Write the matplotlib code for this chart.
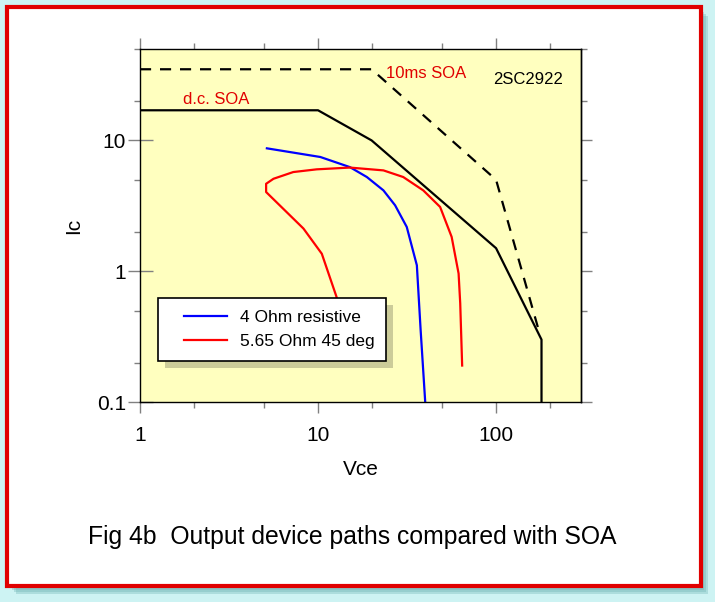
import numpy as np
import matplotlib
matplotlib.use('Agg')
import matplotlib.pyplot as plt
from matplotlib.patches import Rectangle
from matplotlib.legend_handler import HandlerLine2D
from matplotlib.ticker import LogLocator, NullFormatter, FixedFormatter, FixedLocator

plt.rcParams['font.family'] = ['Liberation Sans', 'DejaVu Sans']

# SOA boundaries of the 2SC2922
dc_vce = [1, 10, 20, 100, 180, 180]
dc_ic = [17, 17, 10, 1.5, 0.3, 0.1]
ms_vce = [1, 20, 100, 172]
ms_ic = [35, 35, 5, 0.37]

# device paths
res_vce = [5.16, 10.3, 15.1, 18.8, 23.3, 27.1, 31.5, 35.9, 37.7, 40.0]
res_ic = [8.7, 7.47, 6.25, 5.25, 4.15, 3.19, 2.18, 1.11, 0.355, 0.1]
react_vce = [14.0, 12.7, 10.5, 8.28, 5.11, 5.11, 5.62, 7.26, 9.83, 15.1, 23.3,
             30.1, 39.0, 48.5, 56.3, 61.6, 62.9, 64.5]
react_ic = [0.3, 0.637, 1.36, 2.12, 4.03, 4.66, 5.09, 5.73, 6.01, 6.2, 5.9,
            5.25, 4.15, 3.1, 1.83, 0.96, 0.57, 0.19]

tick_vals = [1, 10, 100]
ytick_vals = [0.1, 1, 10]

W, H = 715, 602
fig = plt.figure(figsize=(W / 100, H / 100), dpi=100)
fig.patch.set_facecolor('#cdf3f3')

def px(x0, y0, x1, y1):
    # pixel box (top-left origin) -> figure fraction rect
    return (x0 / W, 1 - y1 / H), (x1 - x0) / W, (y1 - y0) / H

# blurred shadow of the frame
for d, a in [(0, 0.35), (2, 0.35), (4, 0.35)]:
    xy, w, h = px(12 + d, 12 + d, 706 + d - 2, 592 + d - 2)
    fig.patches.append(Rectangle(xy, w, h, transform=fig.transFigure,
                                 facecolor='#6fb4b4', edgecolor='none', alpha=a, zorder=-3))
xy, w, h = px(7, 7, 701, 586)
fig.patches.append(Rectangle(xy, w, h, transform=fig.transFigure, facecolor='white',
                             edgecolor='#e00000', linewidth=3, zorder=-2))

ax = fig.add_axes([140 / W, 1 - 402 / H, 441 / W, 353 / H])
ax.set_facecolor('#ffffbf')
ax.set_xscale('log')
ax.set_yscale('log')
ax.set_xlim(1, 300)
ax.set_ylim(0.1, 50)

ax.plot(dc_vce, dc_ic, color='black', lw=1.6)
ax.plot(ms_vce, ms_ic, color='black', lw=1.6, ls=(0, (5, 4)))
l1, = ax.plot(res_vce, res_ic, color='#0000ff', lw=1.6, label='4 Ohm resistive')
l2, = ax.plot(react_vce, react_ic, color='#ff0000', lw=1.6, label='5.65 Ohm 45 deg')

ax.text(1.74, 20.6, 'd.c. SOA', color='#e00000', fontsize=12, va='center')
ax.text(24.1, 32.7, '10ms SOA', color='#e00000', fontsize=12, va='center')
ax.text(96.3, 29.3, '2SC2922', color='black', fontsize=12, va='center')

for s in ax.spines.values():
    s.set_linewidth(1.0)

ax.xaxis.set_major_locator(FixedLocator(tick_vals))
ax.xaxis.set_major_formatter(FixedFormatter([str(v) for v in tick_vals]))
ax.xaxis.set_minor_locator(LogLocator(base=10, subs=(2, 5)))
ax.xaxis.set_minor_formatter(NullFormatter())
ax.yaxis.set_major_locator(FixedLocator(ytick_vals))
ax.yaxis.set_major_formatter(FixedFormatter(['0.1', '1', '10']))
ax.yaxis.set_minor_locator(LogLocator(base=10, subs=(2, 5)))
ax.yaxis.set_minor_formatter(NullFormatter())

ax.tick_params(axis='x', which='major', direction='out', length=8, width=1,
               color='#808080', top=True, labelsize=15, pad=9)
ax.tick_params(axis='x', which='minor', direction='out', length=4.5, width=1,
               color='#808080', top=True)
ax.tick_params(axis='y', which='major', direction='inout', length=18, width=1,
               color='#808080', right=False, labelsize=15, pad=1)
ax.tick_params(axis='y', which='minor', direction='out', length=4.5, width=1,
               color='#808080', right=False)

sec = ax.secondary_yaxis('right')
sec.yaxis.set_major_locator(FixedLocator(ytick_vals))
sec.yaxis.set_minor_locator(LogLocator(base=10, subs=(2, 5)))
sec.yaxis.set_major_formatter(NullFormatter())
sec.yaxis.set_minor_formatter(NullFormatter())
sec.tick_params(which='major', direction='out', length=8, width=1, color='#808080')
sec.tick_params(which='minor', direction='out', length=4.5, width=1, color='#808080')
sec.spines['right'].set_linewidth(1.0)

ax.set_xlabel('Vce', fontsize=15, labelpad=11)
ax.set_ylabel('Ic', fontsize=15, labelpad=10)

hl = HandlerLine2D(xpad=0.8)
leg = ax.legend(handles=[l1, l2], loc='upper left',
                bbox_to_anchor=((158 - 140) / 441, (402 - 298) / 353),
                borderaxespad=0, fontsize=12.5, frameon=True, fancybox=False,
                handlelength=3.25, handletextpad=0.75, labelspacing=0.5,
                borderpad=0.7, handler_map={l1: hl, l2: hl})
leg.get_frame().set_edgecolor('black')
leg.get_frame().set_linewidth(1.2)
leg.get_frame().set_facecolor('white')
leg.get_frame().set_alpha(1)
leg.set_zorder(5)

# flat shadow behind the legend box
fig.canvas.draw()
bb = leg.get_window_extent()
shadow = Rectangle((bb.x0 + 7, bb.y0 - 7), bb.width, bb.height, transform=None,
                   facecolor='#cccc99', edgecolor='none', zorder=4)
ax.add_artist(shadow)

fig.text(0.492, 1 - 537 / H, 'Fig 4b  Output device paths compared with SOA',
         fontsize=17.8, ha='center', va='center')

fig.savefig('out.png', dpi=100, facecolor=fig.get_facecolor())
